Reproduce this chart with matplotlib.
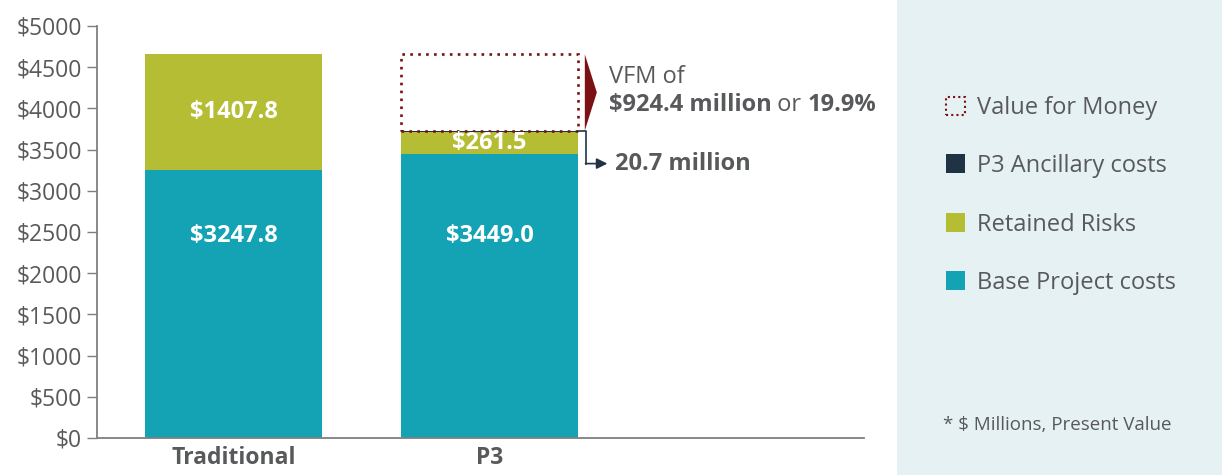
import matplotlib.pyplot as plt
from matplotlib.patches import Rectangle, Polygon
import numpy as np

plt.rcParams['font.family'] = ['Open Sans', 'DejaVu Sans']

# data ($ millions, present value)
projects = ['Traditional', 'P3']
base_costs = [3247.8, 3449.0]
retained_risks = [1407.8, 261.5]
ancillary_costs = [0.0, 20.7]
vfm = 924.4
vfm_pct = 19.9

legend_labels = ['Value for Money', 'P3 Ancillary costs', 'Retained Risks', 'Base Project costs']
yticks = np.arange(0, 5001, 500)

teal = '#13A3B4'
olive = '#B5BD34'
navy = '#1F3344'
maroon = '#7B1113'
grey = '#58595B'
panel = '#E6F1F4'

fig = plt.figure(figsize=(12.22, 4.75), dpi=100)
ax = fig.add_axes([97 / 1222, 37 / 475, (864 - 97) / 1222, 412 / 475])

x = np.arange(len(projects))
w = 0.691
base = np.array(base_costs)
risk = np.array(retained_risks)
anc = np.array(ancillary_costs)

ax.bar(x, base, w, color=teal)
ax.bar(x, risk, w, bottom=base, color=olive)
ax.bar(x, anc, w, bottom=base + risk, color=navy)

# value for money box on top of P3
p3_top = base[1] + risk[1] + anc[1]
ax.bar(x[1], vfm, w, bottom=p3_top, fill=False, edgecolor=maroon,
       linewidth=1.9, linestyle=(0, (1, 2)))

# segment labels
for i in range(len(projects)):
    ax.text(x[i], 2450, f'${base[i]:.1f}', color='white', fontsize=17,
            fontweight='bold', ha='center', va='center')
for i in range(len(projects)):
    ax.text(x[i], base[i] + risk[i] / 2, f'${risk[i]:.1f}', color='white', fontsize=17,
            fontweight='bold', ha='center', va='center')

# VFM marker triangle and text
xr = x[1] + w / 2
ax.add_patch(Polygon([[xr + 0.027, p3_top + vfm], [xr + 0.027, p3_top],
                      [xr + 0.074, p3_top + vfm / 2]], closed=True,
                     facecolor=maroon, edgecolor='none'))
ax.text(xr + 0.12, 4381, 'VFM of', fontsize=17, color=grey, ha='left', va='center')
t1 = ax.text(xr + 0.12, 4040, f'${vfm:.1f} million', fontsize=17, color=grey,
             fontweight='bold', ha='left', va='center')
t2 = ax.annotate(' or ', xy=(1, 0), xycoords=t1, fontsize=17, color=grey,
                 ha='left', va='bottom')
ax.annotate(f'{vfm_pct:.1f}%', xy=(1, 0), xycoords=t2, fontsize=17, color=grey,
            fontweight='bold', ha='left', va='bottom')

# ancillary cost connector
elbow = xr + 0.03
y_arrow = 3330
ax.plot([xr, elbow, elbow], [p3_top, p3_top, y_arrow], color=navy, linewidth=1.2)
ax.annotate('', xy=(elbow + 0.085, y_arrow), xytext=(elbow, y_arrow),
            arrowprops=dict(arrowstyle='-|>', color=navy, lw=1.2,
                            mutation_scale=16, shrinkA=0, shrinkB=0))
ax.text(elbow + 0.113, y_arrow, f'{anc[1]:.1f} million', fontsize=17, color=grey,
        fontweight='bold', ha='left', va='center')

ax.set_xlim(-0.533, 2.463)
ax.set_ylim(0, 5000)
ax.set_yticks(yticks)
ax.set_yticklabels([f'${v}' for v in yticks], fontsize=16.5, color=grey)
ax.set_xticks(x)
ax.set_xticklabels(projects, fontsize=16.5, fontweight='bold', color=grey)
ax.tick_params(axis='y', length=7, width=1, color='#7F7F7F', pad=4)
ax.tick_params(axis='x', length=0, pad=6)
for s in ['top', 'right']:
    ax.spines[s].set_visible(False)
for s in ['left', 'bottom']:
    ax.spines[s].set_color('#7F7F7F')
    ax.spines[s].set_linewidth(1.3)

# legend panel
fig.patches.append(Rectangle((897 / 1222, 0), 1 - 897 / 1222, 1, transform=fig.transFigure,
                             facecolor=panel, edgecolor='none', zorder=0))
leg_colors = [None, navy, olive, teal]
rows = [106, 164, 223, 281]
for lab, col, py in zip(legend_labels, leg_colors, rows):
    yf = 1 - py / 475
    if col is None:
        fig.patches.append(Rectangle((946 / 1222, yf - 9 / 475), 19 / 1222, 18 / 475,
                                     transform=fig.transFigure, fill=False,
                                     edgecolor=maroon, linewidth=1.5,
                                     linestyle=(0, (1, 1.5))))
    else:
        fig.patches.append(Rectangle((946 / 1222, yf - 9 / 475), 19 / 1222, 19 / 475,
                                     transform=fig.transFigure, facecolor=col,
                                     edgecolor='none'))
    fig.text(977 / 1222, yf - 2 / 475, lab, fontsize=17, color=grey, ha='left', va='center')

fig.text(943 / 1222, 1 - 425 / 475, '* $ Millions, Present Value', fontsize=13.5,
         color=grey, ha='left', va='center')

fig.savefig('out.png', dpi=100)
